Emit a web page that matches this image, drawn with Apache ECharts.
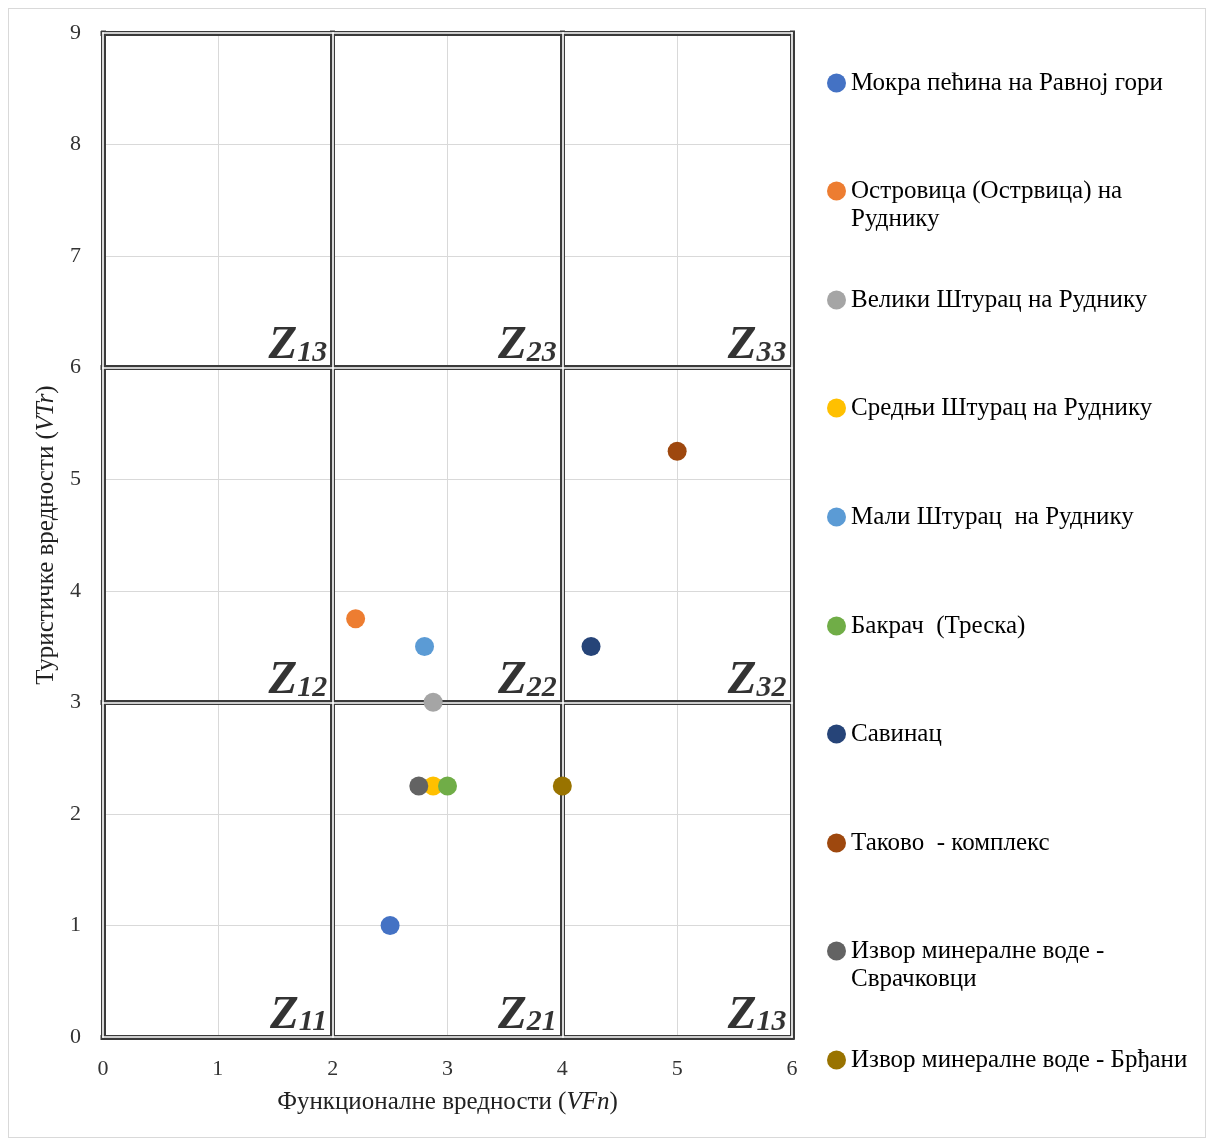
<!DOCTYPE html>
<html>
<head>
<meta charset="utf-8">
<script src="https://cdn.jsdelivr.net/npm/echarts@6/dist/echarts.min.js"></script>
<style>
  html, body { margin: 0; padding: 0; background: #fff; }
  #frame { position: absolute; left: 8px; top: 8px; width: 1196px; height: 1128px; border: 1px solid #d9d9d9; }
  #main { position: absolute; left: 0; top: 0; width: 1206px; height: 1138px; }
</style>
</head>
<body>
<div id="frame"></div>
<div id="main"></div>
<script>
var chart = echarts.init(document.getElementById('main'));

// sites, colours and their (VFn, VTr) values
var names = [
    'Мокра пећина на Равној гори',
    'Островица (Острвица) на\nРуднику',
    'Велики Штурац на Руднику',
    'Средњи Штурац на Руднику',
    'Мали Штурац  на Руднику',
    'Бакрач  (Треска)',
    'Савинац',
    'Таково  - комплекс',
    'Извор минералне воде -\nСврачковци',
    'Извор минералне воде - Брђани'
];
var colors = ['#4472C4', '#ED7D31', '#A5A5A5', '#FFC000', '#5B9BD5', '#70AD47', '#264478', '#9E480E', '#636363', '#997300'];
var vfn = [2.5, 2.2, 2.875, 2.875, 2.8, 3, 4.25, 5, 2.75, 4];
var vtr = [1, 3.75, 3, 2.25, 3.5, 2.25, 3.5, 5.25, 2.25, 2.25];
var legendCenters = [83, 191, 300, 408, 517, 626, 734, 843, 951, 1060];

// zones (label, corner x, corner y)
var zoneNames = [['Z', '13'], ['Z', '23'], ['Z', '33'], ['Z', '12'], ['Z', '22'], ['Z', '32'], ['Z', '11'], ['Z', '21'], ['Z', '13']];
var zoneX = [2, 4, 6, 2, 4, 6, 2, 4, 6];
var zoneY = [6, 6, 6, 3, 3, 3, 0, 0, 0];

var xBorders = [0, 2, 4, 6];
var yBorders = [0, 3, 6, 9];

var serif = '"Liberation Serif", "DejaVu Serif", serif';

function borderLines() {
    var lines = [];
    xBorders.forEach(function (x) {
        lines.push([{ coord: [x, 0] }, { coord: [x, 9] }]);
    });
    yBorders.forEach(function (y) {
        lines.push([{ coord: [0, y] }, { coord: [6, y] }]);
    });
    return lines;
}

var series = [];
names.forEach(function (n, i) {
    series.push({
        name: n,
        type: 'scatter',
        symbolSize: 19,
        z: 5,
        itemStyle: { color: colors[i], opacity: 1 },
        data: [[vfn[i], vtr[i]]]
    });
});

function borderSeries(color, width, z) {
    return {
        type: 'scatter',
        silent: true,
        symbolSize: 0,
        itemStyle: { color: 'rgba(0,0,0,0)' },
        data: [[0, 0]],
        z: z,
        markLine: {
            silent: true, symbol: 'none', animation: false,
            label: { show: false },
            lineStyle: { color: color, width: width, type: 'solid', opacity: 1, cap: 'square' },
            emphasis: { disabled: true },
            data: borderLines()
        }
    };
}
series.push(borderSeries('#3a3a3a', 5, 2));
series.push(borderSeries('#ffffff', 1.6, 3));

series.push({
    type: 'scatter',
    silent: true,
    symbolSize: 1,
    z: 4,
    itemStyle: { color: 'rgba(0,0,0,0)' },
    data: zoneX.map(function (x, i) { return [x, zoneY[i], i]; }),
    label: {
        show: true,
        position: [0, 0],
        align: 'right',
        verticalAlign: 'bottom',
        offset: [-5, 1],
        formatter: function (p) {
            var z = zoneNames[p.data[2]];
            return '{z|' + z[0] + '}{s|' + z[1] + '}';
        },
        rich: {
            z: { fontFamily: serif, fontStyle: 'italic', fontWeight: 'bold', fontSize: 47, color: '#000', lineHeight: 44 },
            s: { fontFamily: serif, fontStyle: 'italic', fontWeight: 'bold', fontSize: 30, color: '#000', lineHeight: 20, verticalAlign: 'bottom' }
        }
    }
});

var legends = names.map(function (n, i) {
    var twoLine = n.indexOf('\n') >= 0;
    return {
        orient: 'vertical',
        left: 827,
        top: legendCenters[i] - (twoLine ? 42 : 14),
        padding: 0,
        itemWidth: 19,
        itemHeight: 19,
        icon: 'circle',
        selectedMode: false,
        data: [n],
        formatter: function (name) { return twoLine ? '\n' + name : name; },
        textStyle: { fontFamily: serif, fontSize: 25, color: '#000', lineHeight: 28 }
    };
});

var option = {
    animation: false,
    legend: legends,
    grid: { left: 103, top: 33, width: 689, height: 1004 },
    xAxis: {
        type: 'value', min: 0, max: 6, interval: 1,
        name: 'Функционалне вредности ({i|VFn})',
        nameLocation: 'middle', nameGap: 53,
        nameTextStyle: {
            fontFamily: serif, fontSize: 25, color: '#222',
            rich: { i: { fontFamily: serif, fontStyle: 'italic', fontSize: 25, color: '#222' } }
        },
        axisLine: { show: false },
        axisTick: { show: false },
        axisLabel: { fontFamily: serif, fontSize: 22, color: '#333', margin: 21 },
        splitLine: { lineStyle: { color: '#d9d9d9', width: 1 } }
    },
    yAxis: {
        type: 'value', min: 0, max: 9, interval: 1,
        name: 'Туристичке вредности ({i|VTr})',
        nameLocation: 'middle', nameGap: 39, nameRotate: 90,
        nameTextStyle: {
            fontFamily: serif, fontSize: 25, color: '#222',
            rich: { i: { fontFamily: serif, fontStyle: 'italic', fontSize: 25, color: '#222' } }
        },
        axisLine: { show: false },
        axisTick: { show: false },
        axisLabel: { fontFamily: serif, fontSize: 22, color: '#333', margin: 22 },
        splitLine: { lineStyle: { color: '#d9d9d9', width: 1 } }
    },
    series: series
};

chart.setOption(option);
</script>
</body>
</html>
